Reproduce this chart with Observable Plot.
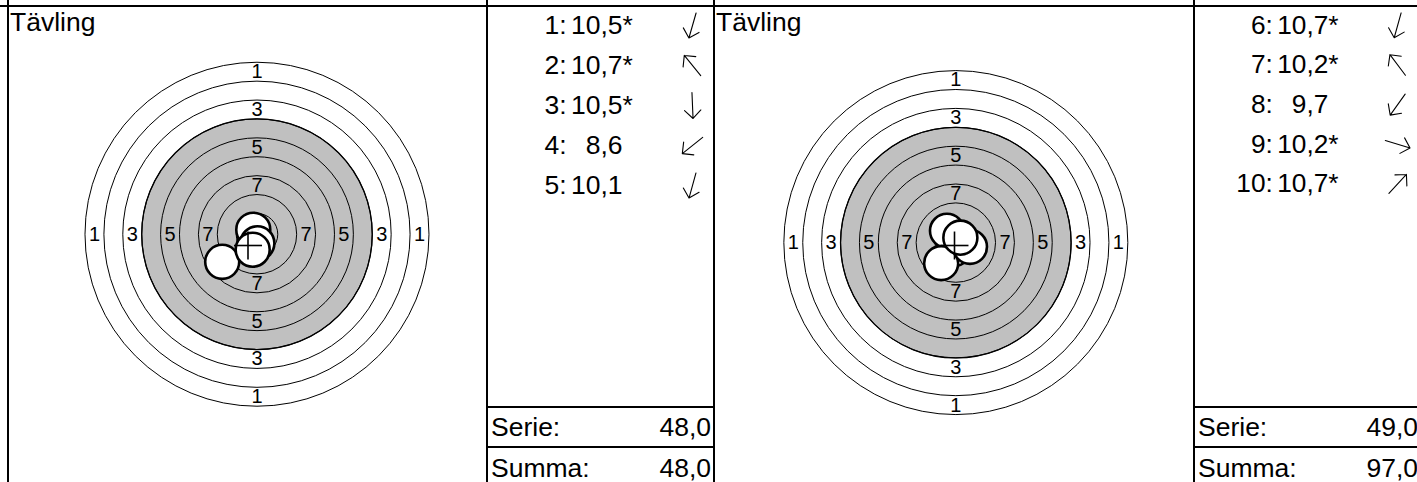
<!DOCTYPE html>
<html>
<head>
<meta charset="utf-8">
<script src="https://cdn.jsdelivr.net/npm/d3@7"></script>
<script src="https://cdn.jsdelivr.net/npm/@observablehq/plot@0.6"></script>
<style>
html, body { margin: 0; padding: 0; background: #fff; }
#root { position: relative; width: 1417px; height: 482px; overflow: hidden;
  font-family: "Liberation Sans", Arial, sans-serif; color: #000; }
.line { position: absolute; background: #000; }
.txt { position: absolute; font-size: 26.5px; line-height: 26px; white-space: nowrap; }
.box { position: absolute; }
</style>
</head>
<body>
<div id="root"></div>
<script>
// ---------------- data ----------------
const title = "Tävling";
const rowLabels = ["Serie:", "Summa:"];

// series 1 (shots 1-5)
const shotNumbers1 = [1, 2, 3, 4, 5];
const shotScores1 = [10.5, 10.7, 10.5, 8.6, 10.1];
const shotInner1 = [true, true, true, false, false];
const shotX1 = [-0.33, -0.49, 0.05, -4.6, -0.57];   // mm, right positive
const shotY1 = [-1.15, 0.6, -1.2, -3.65, -2.05];    // mm, up positive

// series 2 (shots 6-10)
const shotNumbers2 = [6, 7, 8, 9, 10];
const shotScores2 = [10.7, 10.2, 9.7, 10.2, 10.7];
const shotInner2 = [true, true, false, true, true];
const shotX2 = [-0.24, -1.17, -1.94, 1.87, 0.6];
const shotY2 = [-0.86, 1.56, -2.72, -0.56, 0.65];

// target (10 m air rifle) ring outer radii in mm, ring 1 .. ring 10
const ringNumbers = [1, 2, 3, 4, 5, 6, 7, 8, 9, 10];
const ringRadii = [22.75, 20.25, 17.75, 15.25, 12.75, 10.25, 7.75, 5.25, 2.75, 0.25];
const ringLabelValues = [1, 3, 5, 7];
const blackRing = 4;
const pelletRadius = 2.25;
const crossHalf = 1.85;

// ---------------- layout ----------------
const pxPerMm = 7.56;
const FONT = '"Liberation Sans", Arial, sans-serif';
const BIG = 26.5;
const SMALL = 20;
const panels = [
  {border: 7, divider: 486, end: 713, nums: shotNumbers1, scores: shotScores1, inner: shotInner1, xs: shotX1, ys: shotY1},
  {border: 713, divider: 1193, end: 1420, nums: shotNumbers2, scores: shotScores2, inner: shotInner2, xs: shotX2, ys: shotY2}
];
const root = document.getElementById("root");

function place(el, left, top) {
  const d = document.createElement("div");
  d.className = "box";
  d.style.left = left + "px";
  d.style.top = top + "px";
  d.appendChild(el);
  root.appendChild(d);
}
function line(left, top, width, height) {
  const d = document.createElement("div");
  d.className = "line";
  Object.assign(d.style, {left: left + "px", top: top + "px", width: width + "px", height: height + "px"});
  root.appendChild(d);
}
function fmt(v) { return v.toFixed(1).replace(".", ","); }

function targetPlot(xs, ys, W, H) {
  const k = pxPerMm;
  const mx = d3.mean(xs), my = d3.mean(ys);
  const shots = xs.map((x, i) => ({x, y: ys[i]}));
  const rings = ringNumbers.map((n, i) => ({n, x: 0, y: 0, r: ringRadii[i]}));
  const black = rings.filter(d => d.n === blackRing);
  const labels = [];
  for (const v of ringLabelValues) {
    const rm = (ringRadii[v - 1] + ringRadii[v]) / 2;
    labels.push({x: 0, y: rm, t: v}, {x: 0, y: -rm, t: v}, {x: -rm, y: 0, t: v}, {x: rm, y: 0, t: v});
  }
  const cross = [
    {x1: mx - crossHalf, x2: mx + crossHalf, y1: my, y2: my},
    {x1: mx, x2: mx, y1: my - crossHalf, y2: my + crossHalf}
  ];
  return Plot.plot({
    width: W, height: H, margin: 0,
    x: {domain: [mx - W / 2 / k, mx + W / 2 / k], axis: null},
    y: {domain: [my - H / 2 / k, my + H / 2 / k], axis: null},
    r: {type: "identity"},
    style: {fontFamily: FONT, background: "transparent", overflow: "visible", color: "#000"},
    marks: [
      Plot.dot(black, {x: "x", y: "y", r: d => d.r * k, fill: "#c0c0c0", stroke: "#000", strokeWidth: 1.3}),
      Plot.dot(rings, {x: "x", y: "y", r: d => d.r * k, fill: "none", stroke: "#000", strokeWidth: 1}),
      Plot.text(labels, {x: "x", y: "y", text: "t", fontSize: SMALL, fill: "#000"}),
      Plot.dot(shots, {x: "x", y: "y", r: pelletRadius * k, fill: "#fff", stroke: "#000", strokeWidth: 2.6}),
      Plot.link(cross, {x1: "x1", y1: "y1", x2: "x2", y2: "y2", stroke: "#000", strokeWidth: 1.6}),
      Plot.text([title], {frameAnchor: "top-left", dx: 0.5, dy: 4.5, lineAnchor: "top", textAnchor: "start", fontSize: BIG, fill: "#000"})
    ]
  });
}

function listPlot(p, W, H) {
  const rows = p.nums.map((n, i) => ({
    n, s: p.scores[i], inner: p.inner[i],
    rot: Math.atan2(p.xs[i], p.ys[i]) * 180 / Math.PI
  }));
  return Plot.plot({
    width: W, height: H, margin: 0,
    y: {type: "point", padding: 0, domain: p.nums, range: [18, 18 + 40 * (p.nums.length - 1)], axis: null},
    style: {fontFamily: FONT, background: "transparent", overflow: "visible", color: "#000"},
    marks: [
      Plot.text(rows, {y: "n", text: d => d.n + ":", frameAnchor: "left", dx: 78, textAnchor: "end", fontSize: BIG, fill: "#000"}),
      Plot.text(rows, {y: "n", text: d => fmt(d.s), frameAnchor: "left", dx: 134, textAnchor: "end", fontSize: BIG, fill: "#000"}),
      Plot.text(rows.filter(d => d.inner), {y: "n", text: () => "*", frameAnchor: "left", dx: 134, textAnchor: "start", fontSize: BIG, fill: "#000"}),
      Plot.vector(rows, {y: "n", frameAnchor: "left", dx: 204, rotate: "rot", length: 26, anchor: "middle", r: 5.5, stroke: "#000", strokeWidth: 1.1})
    ]
  });
}

let cumulative = 0;
for (const p of panels) {
  const tW = p.divider - p.border - 2;
  place(targetPlot(p.xs, p.ys, tW, 476), p.border + 2, 7);
  const listLeft = p.divider + 2;
  place(listPlot(p, 224, 399), listLeft, 7);

  const serie = d3.sum(p.scores, v => Math.floor(Math.min(v, 10)));
  cumulative += serie;
  const vals = [serie, cumulative];
  const centers = [427, 467.5];
  rowLabels.forEach((lab, i) => {
    const a = document.createElement("div");
    a.className = "txt";
    a.textContent = lab;
    Object.assign(a.style, {left: (listLeft + 3) + "px", top: (centers[i] - 13) + "px"});
    root.appendChild(a);
    const b = document.createElement("div");
    b.className = "txt";
    b.textContent = fmt(vals[i]);
    Object.assign(b.style, {left: (listLeft + 100) + "px", width: "123px", textAlign: "right", top: (centers[i] - 13) + "px"});
    root.appendChild(b);
  });
  // frame lines
  line(p.border, 0, 2, 482);
  line(p.divider, 0, 2, 482);
  line(p.divider, 406, p.end - p.divider, 2);
  line(p.divider, 446, p.end - p.divider, 2);
}
line(0, 5, 1417, 2);
</script>
</body>
</html>
